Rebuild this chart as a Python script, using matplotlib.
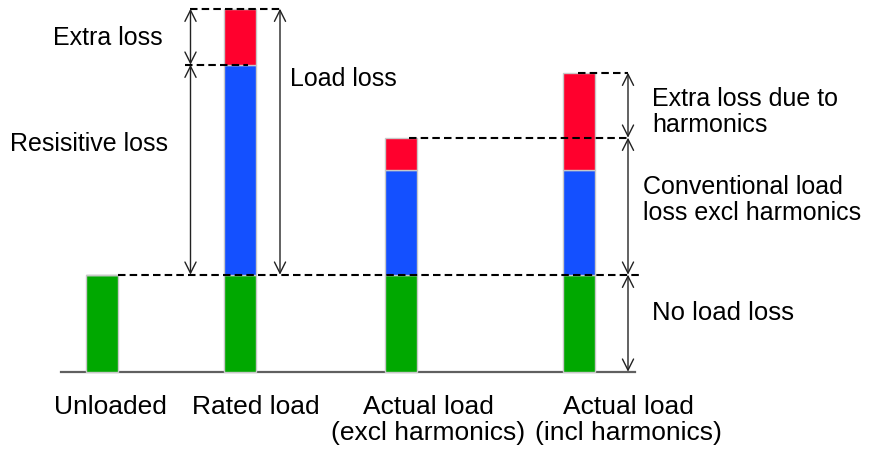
import matplotlib
matplotlib.use('Agg')
import matplotlib.pyplot as plt
import numpy as np

# loss components per case (arbitrary units)
cases = ['Unloaded', 'Rated load', 'Actual load\n(excl harmonics)', 'Actual load\n(incl harmonics)']
no_load = [97, 97, 97, 97]
resistive = [0, 210, 105, 105]
extra = [0, 56, 32, 97]

# layout
bar_x = [102, 239.5, 401.3, 579]
label_x = [110, 256, 428, 628]
bar_w = 32

plt.rcParams['font.family'] = ['Liberation Sans', 'DejaVu Sans']

fig = plt.figure(figsize=(8.74, 4.52), dpi=100)
ax = fig.add_axes([0, 0, 1, 1])
ax.set_xlim(0, 874)
ax.set_ylim(-79.3, 372.7)
ax.axis('off')

no_load = np.array(no_load)
resistive = np.array(resistive)
extra = np.array(extra)

ec = '#c8c8c8'
ax.bar(bar_x, no_load, width=bar_w, color='#00a800', edgecolor=ec, lw=1, zorder=2)
ax.bar(bar_x, resistive, width=bar_w, bottom=no_load, color='#1450ff', edgecolor=ec, lw=1, zorder=2)
ax.bar(bar_x, extra, width=bar_w, bottom=no_load + resistive, color='#ff002d', edgecolor=ec, lw=1, zorder=2)

# baseline
ax.plot([61, 635], [0, 0], color='#606060', lw=1.6, zorder=1)

mid = no_load + resistive
top = mid + extra

dash = dict(color='black', lw=1.5, dashes=(3.6, 2.0), zorder=3)
ax.plot([118, 643], [no_load[0], no_load[0]], **dash)
ax.plot([190, 282], [top[1], top[1]], **dash)
ax.plot([185, 248], [mid[1], mid[1]], **dash)
ax.plot([409, 628], [top[2], top[2]], **dash)
ax.plot([578, 628], [top[3], top[3]], **dash)


def span(x, y0, y1):
    ax.annotate('', xy=(x, y1), xytext=(x, y0),
                arrowprops=dict(arrowstyle='<->,head_length=0.8,head_width=0.4',
                                mutation_scale=10, lw=1.0, color='#222222',
                                shrinkA=0, shrinkB=0), zorder=4)


span(190.5, mid[1], top[1])
span(190.5, no_load[1], mid[1])
span(280, no_load[1], top[1])
span(628, top[2], top[3])
span(628, no_load[3], top[2])
span(628, 0, no_load[3])

fs = 18
ax.text(163, 372.7 - 38, 'Extra loss', ha='right', va='center', fontsize=fs)
ax.text(168, 372.7 - 144, 'Resisitive loss', ha='right', va='center', fontsize=fs)
ax.text(290, 372.7 - 79, 'Load loss', ha='left', va='center', fontsize=fs)
ax.text(652, 372.7 - 112, 'Extra loss due to\nharmonics', ha='left', va='center',
        fontsize=fs, linespacing=1.15)
ax.text(643, 372.7 - 200, 'Conventional load\nloss excl harmonics', ha='left', va='center',
        fontsize=fs, linespacing=1.15)
ax.text(652, 372.7 - 313, 'No load loss', ha='left', va='center', fontsize=fs + 0.5)

for lx, name in zip(label_x, cases):
    ax.text(lx, -22, name, ha='center', va='top', fontsize=19, linespacing=1.12)

fig.savefig('out.png', dpi=100)
